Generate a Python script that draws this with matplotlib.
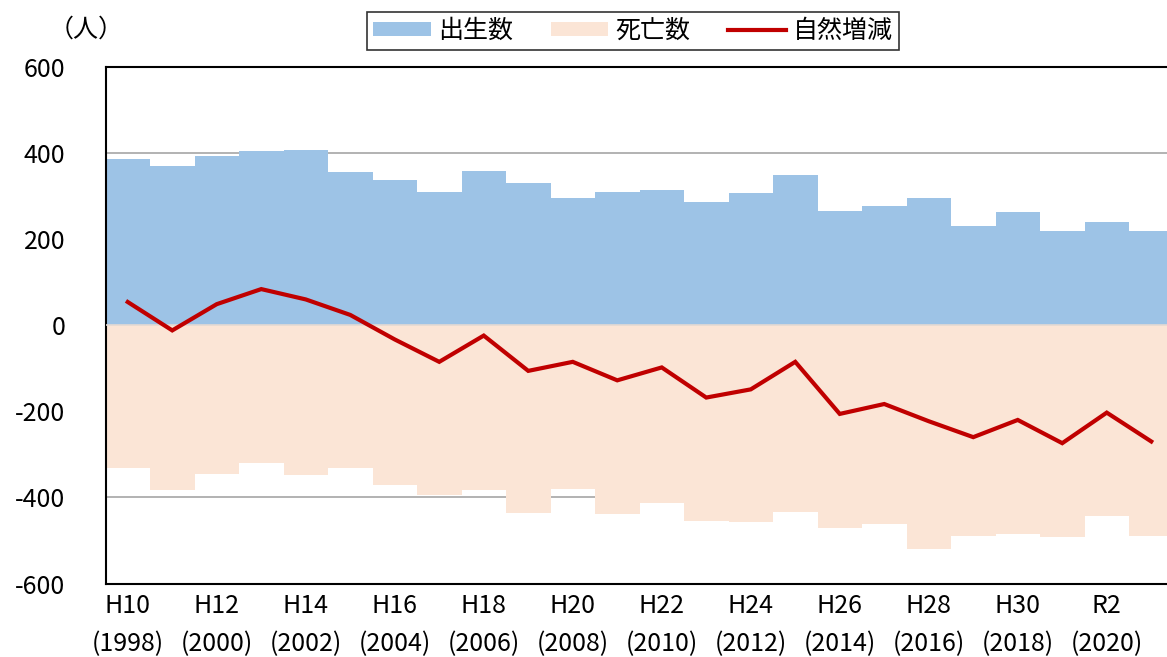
import matplotlib
matplotlib.use("Agg")
import matplotlib.pyplot as plt
from matplotlib.patches import Patch
from matplotlib.lines import Line2D

plt.rcParams["font.family"] = ["Noto Sans CJK JP", "DejaVu Sans"]
plt.rcParams["axes.unicode_minus"] = False

# -----------------------------
# Data
# -----------------------------
years = list(range(1998, 2022))
era_labels = ["H10", "H11", "H12", "H13", "H14", "H15", "H16", "H17", "H18", "H19",
              "H20", "H21", "H22", "H23", "H24", "H25", "H26", "H27", "H28", "H29",
              "H30", "R1", "R2", "R3"]
births = [386, 370, 394, 405, 408, 356, 338, 310, 359, 330, 296, 310,
          315, 286, 307, 348, 266, 278, 296, 230, 264, 219, 240, 219]
deaths = [332, 382, 345, 321, 348, 332, 371, 395, 383, 436, 381, 438,
          413, 454, 456, 433, 472, 461, 519, 490, 484, 493, 443, 489]
natural_change = [54, -12, 49, 84, 60, 24, -33, -85, -24, -106, -85, -128,
                  -98, -168, -149, -85, -206, -183, -223, -260, -220, -274, -203, -270]

BLUE = "#9DC3E6"
PEACH = "#FBE5D6"
RED = "#C00000"
FS = 18


def main():
    fig = plt.figure(figsize=(11.67, 6.57), dpi=100)
    # right edge of the plot runs slightly past the picture, as in the reference
    ax = fig.add_axes([105.5 / 1167, 73.5 / 657, 1068 / 1167, 516.5 / 657])

    x = list(range(len(years)))
    ax.bar(x, births, width=1.0, color=BLUE, zorder=2)
    ax.bar(x, [-d for d in deaths], width=1.0, color=PEACH, zorder=2)
    ax.axhline(0, color="#e3d9d3", lw=1.2, zorder=3)
    ax.plot(x, natural_change, color=RED, lw=3, zorder=4, solid_joinstyle="miter")

    ax.set_xlim(-0.5, len(years) - 0.5)
    ax.set_ylim(-600, 600)
    ax.set_yticks(range(-600, 601, 200))
    ax.yaxis.grid(True, color="#a6a6a6", lw=1.2, zorder=0)
    ax.set_axisbelow(True)

    ticks = x[::2]
    ax.set_xticks(ticks)
    ax.set_xticklabels([f"{era_labels[i]}\n({years[i]})" for i in ticks], linespacing=1.6)
    ax.tick_params(axis="x", length=0, pad=7, labelsize=FS)
    ax.tick_params(axis="y", length=0, pad=29, labelsize=FS)

    for side in ["left", "top", "bottom"]:
        ax.spines[side].set_color("black")
        ax.spines[side].set_linewidth(1.5)
    ax.spines["right"].set_visible(False)

    fig.text(86 / 1167, 1 - 30 / 657, "（人）", ha="center", va="center", fontsize=FS)

    handles = [
        Patch(facecolor=BLUE, edgecolor="none"),
        Patch(facecolor=PEACH, edgecolor="none"),
        Line2D([0], [0], color=RED, lw=3),
    ]
    leg = fig.legend(handles, ["出生数", "死亡数", "自然増減"], loc="center",
                     bbox_to_anchor=(633 / 1167, 1 - 31 / 657), ncol=3, fontsize=FS,
                     frameon=True, fancybox=False, handlelength=2.3, handleheight=0.5,
                     handletextpad=0.3, columnspacing=1.5, borderpad=0.25)
    leg.get_frame().set_edgecolor("black")
    leg.get_frame().set_linewidth(1.2)

    fig.savefig("out.png", dpi=100)


if __name__ == "__main__":
    main()
